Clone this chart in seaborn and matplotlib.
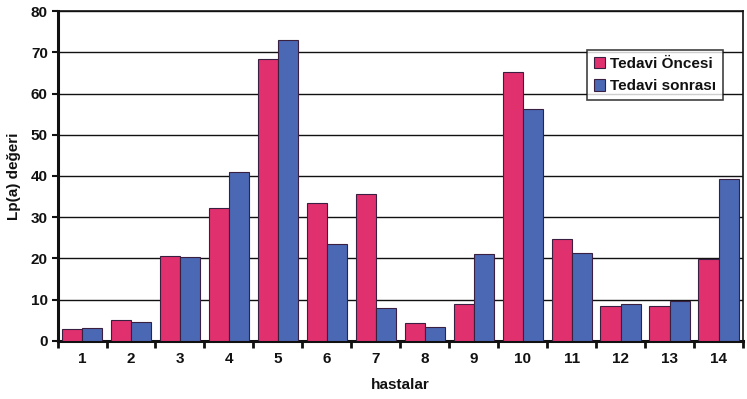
import numpy as np
import pandas as pd
import matplotlib
matplotlib.use("Agg")
import matplotlib.pyplot as plt
import seaborn as sns

# Lp(a) values per patient, before and after treatment
hastalar = [str(i) for i in range(1, 15)]
tedavi_oncesi = [2.9, 5.0, 20.5, 32.3, 68.5, 33.5, 35.5, 4.3, 9.0, 65.2, 24.8, 8.4, 8.5, 19.8]
tedavi_sonrasi = [3.1, 4.5, 20.3, 41.0, 73.0, 23.5, 8.0, 3.4, 21.0, 56.3, 21.3, 8.8, 9.7, 39.2]
series_names = ["Tedavi Öncesi", "Tedavi sonrası"]
y_ticks = [0, 10, 20, 30, 40, 50, 60, 70, 80]

df = pd.DataFrame({
    "hastalar": hastalar * 2,
    "deger": tedavi_oncesi + tedavi_sonrasi,
    "grup": [series_names[0]] * len(hastalar) + [series_names[1]] * len(hastalar),
})

sns.set_theme(style="white")
plt.rcParams["font.family"] = ["Liberation Sans", "DejaVu Sans"]
plt.rcParams["font.weight"] = "bold"
plt.rcParams["text.color"] = "#111111"
plt.rcParams["axes.labelcolor"] = "#111111"
plt.rcParams["xtick.color"] = "#111111"
plt.rcParams["ytick.color"] = "#111111"

fig = plt.figure(figsize=(7.47, 3.99), dpi=100)
ax = fig.add_axes([0.077, 0.146, 0.918, 0.826])

palette = {series_names[0]: "#E0306E", series_names[1]: "#4A68B4"}
sns.barplot(data=df, x="hastalar", y="deger", hue="grup", palette=palette,
            width=0.83, gap=0, saturation=1, edgecolor="#3a2040", linewidth=0.8,
            ax=ax, zorder=3)

ax.set_ylim(0, 80)
ax.set_xlim(-0.5, len(hastalar) - 0.5)
ax.set_yticks(y_ticks)
ax.set_yticklabels([str(t) for t in y_ticks], fontsize=11, fontweight="bold")
ax.yaxis.grid(True, color="#111111", linewidth=1.0, zorder=0)
ax.xaxis.grid(False)

# ticks at category boundaries, labels centered under each group
ax.set_xticks(np.arange(-0.5, len(hastalar), 1.0))
ax.set_xticklabels([])
ax.set_xticks(np.arange(len(hastalar)), minor=True)
ax.set_xticklabels(hastalar, minor=True, fontsize=11, fontweight="bold")
ax.tick_params(axis="x", which="major", direction="out", length=5, width=2, color="#111111", bottom=True)
ax.tick_params(axis="x", which="minor", length=0, pad=8)
ax.tick_params(axis="y", direction="out", length=4, width=1.5, color="#111111", left=True, pad=3)

for side in ["left", "bottom"]:
    ax.spines[side].set_color("#111111")
    ax.spines[side].set_linewidth(2.2)
for side in ["right", "top"]:
    ax.spines[side].set_color("#111111")
    ax.spines[side].set_linewidth(1.2)

ax.set_xlabel("hastalar", fontsize=11, fontweight="bold", labelpad=9)
ax.set_ylabel("Lp(a) değeri", fontsize=11, fontweight="bold", labelpad=7)

leg = ax.legend(loc="upper right", bbox_to_anchor=(0.981, 0.905), frameon=True,
                fancybox=False, edgecolor="#111111", handlelength=0.75,
                handleheight=0.75, handletextpad=0.3, borderpad=0.45,
                labelspacing=0.55, prop={"weight": "bold", "size": 11})
leg.get_frame().set_linewidth(1.2)
leg.get_frame().set_facecolor("white")
leg.set_zorder(5)

fig.savefig("out.png", dpi=100, facecolor="white")
